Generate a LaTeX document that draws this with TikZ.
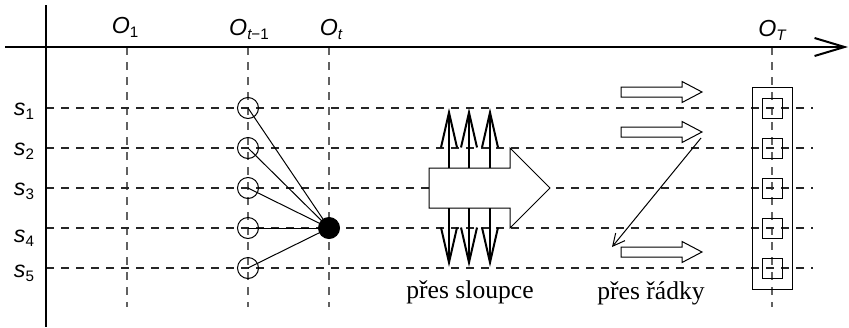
\documentclass[tikz,border=0pt]{standalone}
\usepackage{fontspec}
\setmainfont{Liberation Serif}
\newfontfamily\labfont{Liberation Sans}
\usetikzlibrary{arrows.meta}

% axis label: italic letter with a small subscript
\newcommand\axlabel[2]{{\labfont\itshape #1}\raisebox{-2.4pt}{\labfont\fontsize{7.6}{9}\selectfont #2}}

\tikzset{
  axisline/.style={line width=1pt},
  gridv/.style={draw=black!62, line width=0.55pt, dash pattern=on 4pt off 3.5pt},
  gridh/.style={draw=black!85, line width=0.55pt, dash pattern=on 4pt off 3.5pt},
  state/.style={circle, draw, line width=0.5pt, minimum size=10.5pt, inner sep=0pt},
  laststate/.style={rectangle, draw, line width=0.5pt, minimum size=10pt, inner sep=0pt},
  vec/.style={line width=1pt, -{Straight Barb[length=17.5pt,width=8pt]}},
  thinvec/.style={line width=0.5pt, -{Straight Barb[length=6pt,width=6pt]}},
  blockarrow/.style={draw, fill=white, line width=0.5pt},
  lab/.style={anchor=base, inner sep=0pt, font=\fontsize{11.6}{13}\selectfont},
  caption/.style={inner sep=0pt, font=\fontsize{12.8}{14}\selectfont},
}

\begin{document}
\begin{tikzpicture}[x=0.5pt, y=-0.5pt]
\useasboundingbox (0,0) rectangle (849,327);

% time columns
\foreach \n/\x in {a/127, b/248, c/329, d/772} {
  \coordinate (top\n) at (\x,47);
  \coordinate (bot\n) at (\x,307);
  \draw[gridv] (top\n) -- (bot\n);
}
% state rows
\foreach \i/\y in {1/108, 2/148, 3/188, 4/228, 5/268} {
  \coordinate (left\i) at (46,\y);
  \coordinate (right\i) at (813,\y);
  \draw[gridh] (left\i) -- (right\i);
}

% axes
\coordinate (xs) at (5,47);
\coordinate (xe) at (848,47);
\coordinate (ys) at (46,5);
\coordinate (ye) at (46,327);
\draw[axisline, -{Straight Barb[length=15pt,width=9pt]}] (xs) -- (xe);
\draw[axisline] (ys) -- (ye);

% axis labels
\node[lab] (o1) at (125,33) {\axlabel{O}{1}};
\node[lab] (otm) at (249,35) {\axlabel{O}{\itshape t\upshape −1}};
\node[lab] (ot) at (331,35) {\axlabel{O}{\itshape t}};
\node[lab] (oT) at (772,36) {\axlabel{O}{\itshape T}};

\node[lab] (s1) at (24,115) {\axlabel{s}{1}};
\node[lab] (s2) at (24,155) {\axlabel{s}{2}};
\node[lab] (s3) at (24,195) {\axlabel{s}{3}};
\node[lab] (s4) at (24,242) {\axlabel{s}{4}};
\node[lab] (s5) at (24,277) {\axlabel{s}{5}};

% previous states feeding the current one
\node[state] (p1) at (248,108) {};
\node[state] (p2) at (248,148) {};
\node[state] (p3) at (248,188) {};
\node[state] (p4) at (248,228) {};
\node[state] (p5) at (248,268) {};
\foreach \i in {1,...,5} \draw[line width=0.5pt] (p\i.center) -- (329,228);
\node[state, fill=black] (cur) at (329,228) {};

% sweep over columns
\draw[blockarrow] (429,168) -- (510,168) -- (510,148) -- (550,188)
  -- (510,228) -- (510,208) -- (429,208) -- cycle;
\foreach \k/\x in {1/449, 2/469, 3/490} {
  \coordinate (ua\k) at (\x,168);
  \coordinate (ub\k) at (\x,108);
  \coordinate (da\k) at (\x,208);
  \coordinate (db\k) at (\x,267);
  \draw[vec] (ua\k) -- (ub\k);
  \draw[vec] (da\k) -- (db\k);
}
\node[caption] (cols) at (470,292) {přes sloupce};

% sweep over rows
\foreach \k/\y in {1/92, 2/132, 3/252} {
  \draw[blockarrow] (621,{\y-5}) -- (682,{\y-5}) -- (682,{\y-10.5}) -- (702,\y)
    -- (682,{\y+10.5}) -- (682,{\y+5}) -- (621,{\y+5}) -- cycle;
}
\coordinate (za) at (701,138);
\coordinate (zb) at (612,247);
\draw[thinvec] (za) -- (zb);
\node[caption] (rows) at (651,293) {přes řádky};

% final column of states
\node[draw, line width=0.5pt, minimum width=20pt, minimum height=101pt, inner sep=0pt] (col) at (772,188) {};
\node[laststate] (q1) at (772,108) {};
\node[laststate] (q2) at (772,148) {};
\node[laststate] (q3) at (772,188) {};
\node[laststate] (q4) at (772,228) {};
\node[laststate] (q5) at (772,268) {};
\end{tikzpicture}
\end{document}
